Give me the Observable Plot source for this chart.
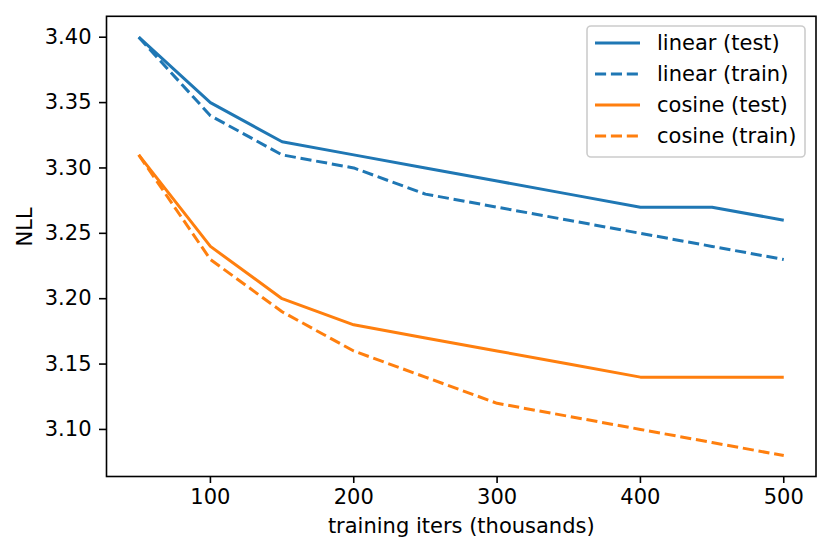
<!DOCTYPE html>
<html>
<head>
<meta charset="utf-8">
<script src="https://cdn.jsdelivr.net/npm/d3@7"></script>
<script src="https://cdn.jsdelivr.net/npm/@observablehq/plot@0.6"></script>
<style>
  html, body { margin: 0; padding: 0; background: #fff; }
  #chart { position: relative; width: 831px; height: 556px; }
</style>
</head>
<body>
<div id="chart"></div>
<script>
// ---- data ----
const iters = [50, 100, 150, 200, 250, 300, 350, 400, 450, 500];
const linearTest  = [3.40, 3.35, 3.32, 3.31, 3.30, 3.29, 3.28, 3.27, 3.27, 3.26];
const linearTrain = [3.40, 3.34, 3.31, 3.30, 3.28, 3.27, 3.26, 3.25, 3.24, 3.23];
const cosineTest  = [3.31, 3.24, 3.20, 3.18, 3.17, 3.16, 3.15, 3.14, 3.14, 3.14];
const cosineTrain = [3.31, 3.23, 3.19, 3.16, 3.14, 3.12, 3.11, 3.10, 3.09, 3.08];
const seriesNames = ["linear (test)", "linear (train)", "cosine (test)", "cosine (train)"];
const xTicks = [100, 200, 300, 400, 500];
const yTicks = [3.10, 3.15, 3.20, 3.25, 3.30, 3.35, 3.40];
const xLabel = "training iters (thousands)";
const yLabel = "NLL";

const blue = "#1f77b4", orange = "#ff7f0e";
const seriesValues = [linearTest, linearTrain, cosineTest, cosineTrain];
const seriesColor = [blue, blue, orange, orange];
const seriesDash = [null, "11.1,4.8", null, "11.1,4.8"];
const FS = 21;

const rows = (vals) => iters.map((x, i) => ({x, y: vals[i]}));

const lineMarks = seriesValues.map((vals, i) => Plot.line(rows(vals), {
  x: "x", y: "y", stroke: seriesColor[i], strokeWidth: 3,
  strokeDasharray: seriesDash[i] || undefined, strokeLinejoin: "round", strokeLinecap: "butt"
}));

const svg = Plot.plot({
  width: 831,
  height: 556,
  marginLeft: 106,
  marginRight: 15.5,
  marginTop: 15.8,
  marginBottom: 80,
  style: {fontFamily: "DejaVu Sans", fontSize: FS + "px", color: "#000", background: "#fff"},
  x: {domain: [27.5, 522.5]},
  y: {domain: [3.064, 3.416]},
  marks: [
    ...lineMarks,
    Plot.frame({stroke: "#000", strokeWidth: 1.6}),
    Plot.axisX({ticks: xTicks, tickSize: 7, tickPadding: 6, strokeWidth: 1.6, label: null, fontSize: FS}),
    Plot.axisY({ticks: yTicks, tickSize: 7, tickPadding: 8, strokeWidth: 1.6, label: null, tickFormat: d3.format(".2f"), fontSize: FS}),
    Plot.text([xLabel], {text: d => d, frameAnchor: "bottom", dy: 50, lineAnchor: "middle", fontSize: FS}),
    Plot.text([yLabel], {text: d => d, frameAnchor: "left", dx: -81, rotate: -90, lineAnchor: "middle", fontSize: FS})
  ]
});

// legend
const g = d3.select(svg).append("g")
  .attr("font-family", "DejaVu Sans").attr("font-size", FS).attr("text-anchor", "start");
g.append("rect")
  .attr("x", 587).attr("y", 26).attr("width", 218).attr("height", 131).attr("rx", 4)
  .attr("fill", "#fff").attr("fill-opacity", 0.8)
  .attr("stroke", "#cccccc").attr("stroke-width", 1.6);
seriesNames.forEach((name, i) => {
  const y = 43 + i * 31;
  g.append("line")
    .attr("x1", 595).attr("x2", 640).attr("y1", y).attr("y2", y)
    .attr("stroke", seriesColor[i]).attr("stroke-width", 3)
    .attr("stroke-dasharray", seriesDash[i]);
  g.append("text")
    .attr("x", 657).attr("y", y).attr("dy", "0.35em").attr("fill", "#000")
    .attr("text-anchor", "start")
    .text(name);
});

document.getElementById("chart").appendChild(svg);
</script>
</body>
</html>
